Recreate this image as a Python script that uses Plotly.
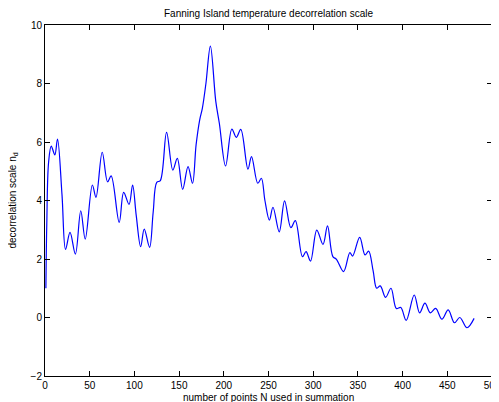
import plotly.graph_objects as go

# Digitized decorrelation scale vs N (extrema and shape points)
n_points = [1, 2, 4, 7, 11, 14, 19, 23, 28, 34, 40, 45, 53, 57, 64, 70, 74, 83, 88, 94,
            98, 102, 107, 111, 117, 121, 125, 129, 136, 143, 148, 154, 160, 165, 169, 173,
            176, 180, 185, 191, 195, 202, 209, 214, 219, 227, 231, 238, 242, 246, 251, 255,
            262, 268, 275, 280, 288, 292, 297, 304, 311, 316, 322, 326, 334, 341, 344, 352,
            358, 362, 367, 371, 375, 381, 387, 393, 398, 404, 413, 419, 425, 431, 437, 444,
            451, 458, 464, 472, 480]
decorr = [1.0, 3.2, 5.3, 5.86, 5.56, 6.10, 4.2, 2.33, 2.91, 2.17, 3.65, 2.68, 4.53, 4.11,
          5.65, 4.64, 4.84, 3.25, 4.28, 3.87, 4.53, 3.5, 2.42, 3.02, 2.40, 3.6, 4.62, 4.68,
          6.33, 5.04, 5.44, 4.38, 5.16, 4.59, 5.9, 6.75, 7.15, 8.0, 9.28, 7.4, 6.64, 5.18,
          6.44, 6.16, 6.43, 5.07, 5.50, 4.59, 4.76, 4.0, 3.33, 3.77, 2.93, 3.99, 3.07, 3.31,
          2.08, 2.25, 1.93, 2.99, 2.50, 3.13, 2.08, 1.99, 1.57, 2.22, 2.10, 2.74, 2.14, 2.27,
          1.6, 1.0, 1.08, 0.69, 1.0, 0.31, 0.34, -0.10, 0.77, 0.16, 0.49, 0.16, 0.31, -0.06,
          0.26, -0.18, 0.0, -0.35, -0.03]

x_ticks = [0, 50, 100, 150, 200, 250, 300, 350, 400, 450, 500]
y_ticks = [-2, 0, 2, 4, 6, 8, 10]

font_family = "Liberation Sans, Arial, sans-serif"

fig = go.Figure()
fig.add_trace(go.Scatter(
    x=n_points, y=decorr, mode="lines",
    line=dict(color="#0000ff", width=1.2, shape="spline", smoothing=1.0),
    showlegend=False, hoverinfo="skip"))

axis_common = dict(
    showgrid=False, zeroline=False, showline=True, linecolor="black", linewidth=1,
    mirror="ticks", ticks="inside", ticklen=5, tickwidth=1, tickcolor="black",
    automargin=False, ticklabeloverflow="allow",
    tickfont=dict(family=font_family, size=10, color="black"))

# The page body adds an 8px offset, so the figure is sized/margined to compensate.
fig.update_layout(
    width=491, height=394,
    margin=dict(l=37, r=7, t=17, b=26),
    paper_bgcolor="white", plot_bgcolor="white",
    font=dict(family=font_family, size=10, color="black"),
    xaxis=dict(range=[0, 500], tickvals=x_ticks, **axis_common),
    yaxis=dict(range=[-2, 10], tickvals=y_ticks, **axis_common),
    annotations=[
        dict(text="Fanning Island temperature decorrelation scale", xref="paper", yref="paper",
             x=0.5, y=1, yanchor="middle", xanchor="center", yshift=12, showarrow=False,
             font=dict(family=font_family, size=10, color="black")),
        dict(text="number of points N used in summation", xref="paper", yref="paper",
             x=0.5, y=0, yanchor="middle", xanchor="center", yshift=-21, showarrow=False,
             font=dict(family=font_family, size=10, color="black")),
        dict(text="decorrelation scale n<sub>d</sub>", xref="paper", yref="paper",
             x=0, y=0.5, xanchor="center", yanchor="middle", xshift=-33, textangle=-90,
             showarrow=False, font=dict(family=font_family, size=10, color="black")),
    ],
)

fig.write_html("out.html")
